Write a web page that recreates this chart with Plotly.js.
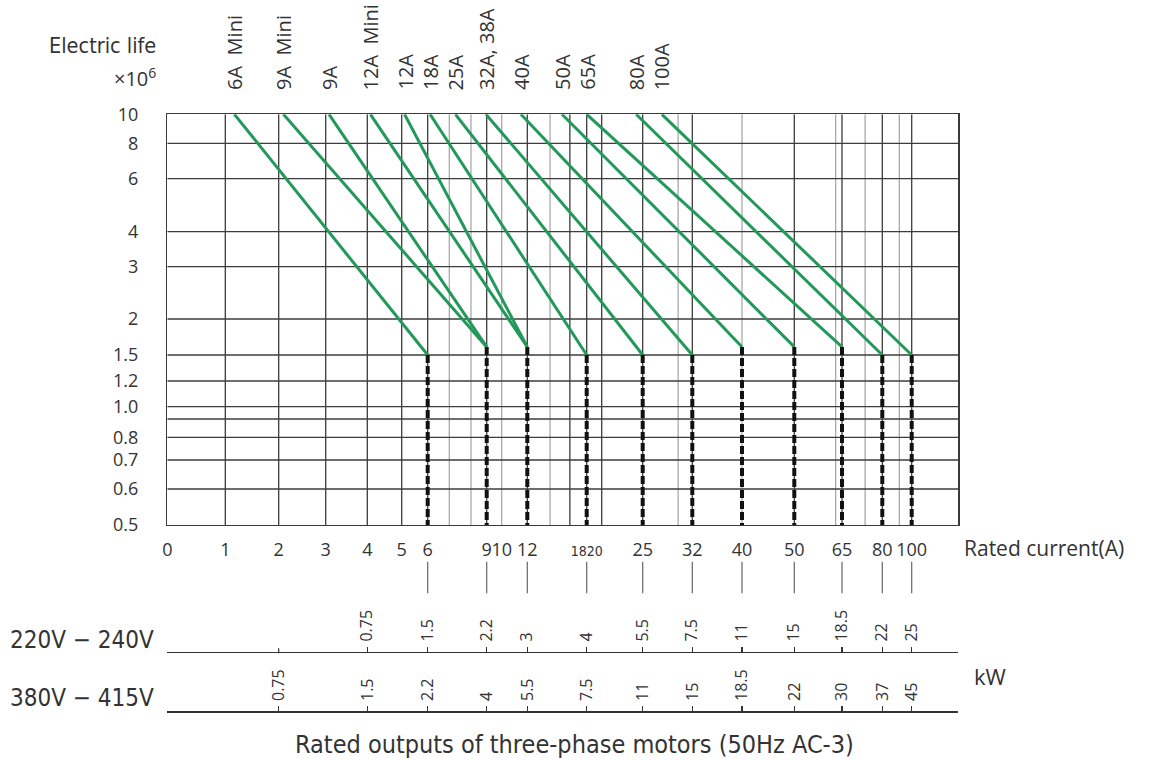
<!DOCTYPE html>
<html><head><meta charset="utf-8">
<script src="https://cdn.plot.ly/plotly-3.0.1.min.js"></script>
<style>html,body{margin:0;padding:0;background:#fff}#chart{width:1152px;height:760px}</style>
</head><body><div id="chart"></div>
<script>
// ---------- data ----------
const contactors    = ['6A\u00a0 Mini','9A\u00a0 Mini','9A','12A\u00a0 Mini','12A','18A','25A','32A, 38A','40A','50A','65A','80A','100A'];
const startCurrent  = [1.17, 2.1, 3.08, 4.09, 5.11, 6.12, 7.41, 8.96, 11.5, 15.5, 18, 24.2, 27.7];
const startLife     = [10, 10, 10, 10, 10, 10, 10, 10, 10, 10, 10, 10, 10];
const endCurrent    = [6, 9, 9, 12, 12, 18, 25, 32, 40, 50, 65, 80, 100];
const endLife       = [1.5, 1.6, 1.6, 1.6, 1.6, 1.5, 1.5, 1.5, 1.6, 1.6, 1.6, 1.5, 1.5];
const minLife       = 0.5;

const currentTicks    = [0, 1, 2, 3, 4, 5, 6, 9, 10, 12, 18, 20, 25, 32, 40, 50, 65, 80, 100];
const currentTickText = ['0','1','2','3','4','5','6','9','10','12','1820','','25','32','40','50','65','80','100'];
const gridDark        = [1, 2, 3, 4, 5, 6, 9, 12, 16.3, 18, 20, 25, 32, 50, 65, 80, 100];
const gridLight       = [7.1, 8.2, 10, 14.3, 30, 40, 63, 73.6, 91.6];

const lifeTicks    = [0.5, 0.6, 0.7, 0.8, 1.0, 1.2, 1.5, 2, 3, 4, 6, 8, 10];
const lifeTickText = ['0.5','0.6','0.7','0.8','1.0','1.2','1.5','2','3','4','6','8','10'];
const lifeGrid     = [0.6, 0.7, 0.8, 0.9, 1.0, 1.2, 1.5, 2, 3, 4, 6, 8];

const kwCurrents = [2, 4, 6, 9, 12, 18, 25, 32, 40, 50, 65, 80, 100];
const kw220      = ['', '0.75', '1.5', '2.2', '3', '4', '5.5', '7.5', '11', '15', '18.5', '22', '25'];
const kw380      = ['0.75', '1.5', '2.2', '4', '5.5', '7.5', '11', '15', '18.5', '22', '30', '37', '45'];

// ---------- axis scales (the chart's own non-uniform rulings) ----------
const X_SCALE_UNITS = [0, 58, 111.4, 158.4, 200, 234.4, 260.4, 319.4, 334.4, 360, 419.4, 434.4, 475.4, 525, 574.7, 627, 674.7, 715, 744.4];
const X_RANGE = [0, 791];
const Y_SCALE_VALUES = [0.5, 0.6, 0.7, 0.8, 0.9, 1.0, 1.2, 1.5, 2, 3, 4, 6, 8, 10];
const Y_SCALE_UNITS  = [0, 36, 65, 87.7, 106, 118.3, 144, 170, 206, 258.3, 293.3, 346.3, 381.7, 410.7];
const Y_RANGE = [0, 410.7];

function poly(dom, rng, v, tf) {
  tf = tf || (d => d);
  const t = tf(v);
  let i = 0;
  while (i < dom.length - 2 && t > tf(dom[i + 1])) i++;
  const a = tf(dom[i]), b = tf(dom[i + 1]);
  return rng[i] + (t - a) / (b - a) * (rng[i + 1] - rng[i]);
}
const xs = c => poly(currentTicks, X_SCALE_UNITS, c);
const ys = v => poly(Y_SCALE_VALUES, Y_SCALE_UNITS, v, Math.log10);

// ---------- traces ----------
const GREEN = '#22985a';
const traces = [];
contactors.forEach((n, i) => {
  traces.push({type:'scatter', mode:'lines', x:[xs(startCurrent[i]), xs(endCurrent[i])],
    y:[ys(startLife[i]), ys(endLife[i])], line:{color:GREEN, width:3}, hoverinfo:'skip', xaxis:'x', yaxis:'y'});
});
const rated = [...new Set(endCurrent)];
rated.forEach(c => {
  const life = Math.max(...endCurrent.map((e, i) => e === c ? endLife[i] : 0));
  traces.push({type:'scatter', mode:'lines', x:[xs(c), xs(c)], y:[ys(life), ys(minLife)],
    line:{color:'#111', width:4, dash:'8px,3px'}, hoverinfo:'skip', xaxis:'x', yaxis:'y'});
});
traces.push({type:'scatter', x:[], y:[], xaxis:'x2', yaxis:'y2', hoverinfo:'skip'});
traces.push({type:'scatter', x:[], y:[], xaxis:'x3', yaxis:'y3', hoverinfo:'skip'});

// ---------- shapes ----------
const shapes = [];
gridDark.forEach(c => shapes.push({type:'line', layer:'below', xref:'x', yref:'y', x0:xs(c), x1:xs(c), y0:ys(minLife), y1:ys(10), line:{color:'#3c3c3c', width:1.3}}));
gridLight.forEach(c => shapes.push({type:'line', layer:'below', xref:'x', yref:'y', x0:xs(c), x1:xs(c), y0:ys(minLife), y1:ys(10), line:{color:'#a9a9a9', width:1.3}}));
lifeGrid.forEach(v => shapes.push({type:'line', layer:'below', xref:'x', yref:'y', x0:X_RANGE[0], x1:X_RANGE[1], y0:ys(v), y1:ys(v), line:{color:'#3c3c3c', width:1.3}}));
rated.forEach(c => shapes.push({type:'line', xref:'x', yref:'paper', x0:xs(c), x1:xs(c), y0:0.2193, y1:0.2609, line:{color:'#666', width:1.2}}));
// unlabeled tick marks on the 220V row
kwCurrents.forEach((c, i) => { if (kw220[i] === '') shapes.push({type:'line', xref:'x', yref:'paper', x0:xs(c), x1:xs(c), y0:1 - 653.3/760, y1:1 - 648.3/760, line:{color:'#333', width:1.2}}); });

// ---------- annotations ----------
const NARROW = 'DejaVu Sans Condensed, Open Sans, sans-serif';
const OPEN = 'Open Sans, sans-serif';
const ann = [];
contactors.forEach((n, i) => ann.push({xref:'x', yref:'paper', x:xs(startCurrent[i]), y:1 - 92/760, yanchor:'bottom', xanchor:'center',
  text:n, textangle:-90, showarrow:false, font:{family:OPEN, size:20, color:'#333'}}));
ann.push({xref:'paper', yref:'paper', x:158/1152, y:1 - 46/760, xanchor:'right', yanchor:'middle', text:'Electric life', showarrow:false, font:{family:NARROW, size:21.5, color:'#333'}});
ann.push({xref:'paper', yref:'paper', x:158/1152, y:1 - 77/760, xanchor:'right', yanchor:'middle', text:'×10<sup>6</sup>', showarrow:false, font:{family:OPEN, size:20, color:'#333'}});
ann.push({xref:'paper', yref:'paper', x:962/1152, y:1 - 548/760, xanchor:'left', yanchor:'middle', text:'Rated current(A)', showarrow:false, font:{family:OPEN, size:21, color:'#333'}});
ann.push({xref:'paper', yref:'paper', x:8/1152, y:1 - 640/760, xanchor:'left', yanchor:'middle', text:'220V − 240V', showarrow:false, font:{family:NARROW, size:24, color:'#333'}});
ann.push({xref:'paper', yref:'paper', x:8/1152, y:1 - 698/760, xanchor:'left', yanchor:'middle', text:'380V − 415V', showarrow:false, font:{family:NARROW, size:24, color:'#333'}});
ann.push({xref:'paper', yref:'paper', x:972/1152, y:1 - 676/760, xanchor:'left', yanchor:'middle', text:'kW', showarrow:false, font:{family:OPEN, size:22, color:'#333'}});
ann.push({xref:'paper', yref:'paper', x:574/1152, y:1 - 744/760, xanchor:'center', yanchor:'middle', text:'Rated outputs of three-phase motors (50Hz AC-3)', showarrow:false, font:{family:NARROW, size:25, color:'#333'}});

// ---------- layout ----------
const XDOM = [167.3/1152, 958.3/1152];
const labeledX = currentTicks.map((c, i) => [c, currentTickText[i]]).filter(p => p[1] !== '');
const tickTextX = labeledX.map(p => p[1] === '1820' ? '<span style="font-family:DejaVu Sans Condensed;font-size:14px">1820</span>' : p[1]);
const kwAxis = (anchor, text) => {
  const keep = kwCurrents.map((c, i) => [c, text[i]]).filter(p => p[1] !== '');
  return {domain:XDOM, range:X_RANGE, anchor:anchor, side:'top', tickmode:'array',
  tickvals:keep.map(p => xs(p[0])), ticktext:keep.map(p => p[1]), ticks:'outside', ticklen:5, tickwidth:1.2, tickcolor:'#333',
  tickangle:-90, showline:true, linecolor:'#333', linewidth:1.5, showgrid:false, zeroline:false,
  tickfont:{family:OPEN, size:16, color:'#333'}, ticklabelstandoff:2, fixedrange:true};
};

const layout = {
  width:1152, height:760, margin:{l:0, r:0, t:0, b:0}, paper_bgcolor:'#fff', plot_bgcolor:'rgba(0,0,0,0)',
  showlegend:false, font:{family:OPEN, color:'#333'},
  xaxis:{domain:XDOM, range:X_RANGE, anchor:'y', tickmode:'array', tickvals:labeledX.map(p => xs(p[0])), ticktext:tickTextX,
    tickangle:0, ticks:'', showgrid:false, zeroline:false, showline:true, mirror:true, linecolor:'#3a3a3a', linewidth:1.4,
    tickfont:{family:OPEN, size:18, color:'#333'}, ticklabelstandoff:8, fixedrange:true},
  yaxis:{domain:[1 - 525/760, 1 - 114.3/760], range:Y_RANGE, anchor:'x', tickmode:'array', tickvals:lifeTicks.map(ys), ticktext:lifeTickText,
    ticks:'', showgrid:false, zeroline:false, showline:true, mirror:true, linecolor:'#3a3a3a', linewidth:1.4,
    tickfont:{family:OPEN, size:18, color:'#333'}, ticklabelstandoff:24, fixedrange:true},
  xaxis2:kwAxis('y2', kw220),
  yaxis2:{domain:[1 - 653.3/760 - 0.015, 1 - 653.3/760], anchor:'x2', visible:false, range:[0,1], fixedrange:true},
  xaxis3:kwAxis('y3', kw380),
  yaxis3:{domain:[1 - 712.7/760 - 0.015, 1 - 712.7/760], anchor:'x3', visible:false, range:[0,1], fixedrange:true},
  shapes:shapes, annotations:ann
};
Plotly.newPlot('chart', traces, layout, {displayModeBar:false, staticPlot:true});
</script></body></html>
